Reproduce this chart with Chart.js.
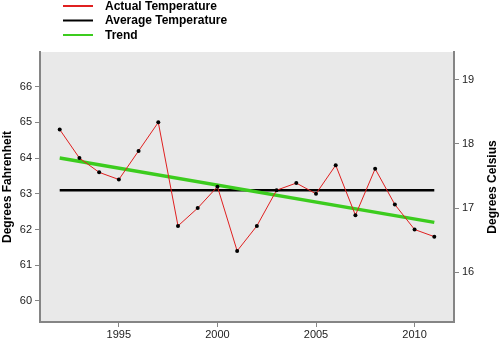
<!DOCTYPE html>
<html>
<head>
<meta charset="utf-8">
<script src="https://cdn.jsdelivr.net/npm/chart.js@4/dist/chart.umd.min.js"></script>
<style>
  body { margin: 0; background: #fff; }
  canvas { display: block; }
</style>
</head>
<body>
<canvas id="chart" width="500" height="340"></canvas>
<script>
const years = [1992, 1993, 1994, 1995, 1996, 1997, 1998, 1999, 2000, 2001,
               2002, 2003, 2004, 2005, 2006, 2007, 2008, 2009, 2010, 2011];
const actualTemps = [64.8, 64.0, 63.6, 63.4, 64.2, 65.0, 62.1, 62.6, 63.2, 61.4,
                     62.1, 63.1, 63.3, 63.0, 63.8, 62.4, 63.7, 62.7, 62.0, 61.8];
const averageYears = [1992, 2011];
const averageTemps = [63.1, 63.1];
const trendYears = [1992, 2011];
const trendTemps = [64.0, 62.2];

const yearTicks = [1995, 2000, 2005, 2010];
const fahrenheitTicks = [60, 61, 62, 63, 64, 65, 66];
const celsiusTicks = [16, 17, 18, 19];

const fMin = 59.41, fMax = 66.97;
const toC = f => (f - 32) * 5 / 9;

const tickFont = { family: "'Liberation Sans Narrow', 'Liberation Sans', Arial", size: 11 };
const boldFont = { family: "'Liberation Sans', Arial, Helvetica", size: 12, weight: 'bold' };
const axisGray = '#858585';

function points(xs, ys) {
    return xs.map((x, i) => ({ x: x, y: ys[i] }))
}

function fixedTicks(values) {
    return scale => { scale.ticks = values.map(v => ({ value: v })) }
}

const panelBackground = {
    id: 'panelBackground',
    beforeDraw(chart) {
        const { ctx, chartArea: a } = chart;
        ctx.save();
        ctx.fillStyle = '#e9e9e9';
        ctx.fillRect(a.left, a.top, a.right - a.left, a.bottom - a.top);
        ctx.restore();
    }
}

const sideLegend = {
    id: 'sideLegend',
    afterDraw(chart) {
        const ctx = chart.ctx;
        ctx.save();
        ctx.font = 'bold 12px ' + boldFont.family;
        ctx.textBaseline = 'middle';
        chart.data.datasets.forEach((ds, i) => {
            const y = 6 + i * 14.5;
            ctx.strokeStyle = ds.borderColor;
            ctx.lineWidth = 2;
            ctx.beginPath();
            ctx.moveTo(63, y);
            ctx.lineTo(93, y);
            ctx.stroke();
            ctx.fillStyle = '#000';
            ctx.fillText(ds.label, 105, y + 0.5);
        });
        // right axis title reads bottom to top, like the left one
        const a = chart.chartArea;
        ctx.translate(493, (a.top + a.bottom) / 2);
        ctx.rotate(-Math.PI / 2);
        ctx.textAlign = 'center';
        ctx.fillText('Degrees Celsius', 0, 0);
        ctx.restore();
    }
}

function renderChart() {
    const ctx = document.getElementById('chart').getContext('2d');
    const chart = new Chart(ctx, {
        type: 'line',
        data: {
            datasets: [
                {
                    label: 'Actual Temperature',
                    data: points(years, actualTemps),
                    borderColor: '#e02020',
                    borderWidth: 1,
                    pointRadius: 2,
                    pointBorderWidth: 0,
                    pointBackgroundColor: '#000',
                    order: 0
                },
                {
                    label: 'Average Temperature',
                    data: points(averageYears, averageTemps),
                    borderColor: '#000000',
                    borderWidth: 2.5,
                    pointRadius: 0,
                    order: 2
                },
                {
                    label: 'Trend',
                    data: points(trendYears, trendTemps),
                    borderColor: '#3ccc1e',
                    borderWidth: 3.5,
                    pointRadius: 0,
                    order: 1
                }
            ]
        },
        options: {
            responsive: false,
            animation: false,
            devicePixelRatio: 1,
            layout: { padding: { top: 52, left: 0, right: 0, bottom: 0 } },
            plugins: {
                legend: { display: false },
                tooltip: { enabled: false }
            },
            scales: {
                x: {
                    type: 'linear',
                    min: 1991,
                    max: 2012,
                    afterBuildTicks: fixedTicks(yearTicks),
                    afterFit: s => { s.height = 18 },
                    ticks: { font: tickFont, color: '#222', padding: 1, callback: v => String(v) },
                    grid: { drawOnChartArea: false, tickLength: 5, color: axisGray },
                    border: { color: axisGray, width: 2 }
                },
                y: {
                    position: 'left',
                    min: fMin,
                    max: fMax,
                    afterBuildTicks: fixedTicks(fahrenheitTicks),
                    afterFit: s => { s.width = 40 },
                    ticks: { font: tickFont, color: '#222', padding: 3 },
                    grid: { drawOnChartArea: false, tickLength: 5, color: axisGray },
                    border: { color: axisGray, width: 2 },
                    title: {
                        display: true,
                        text: 'Degrees Fahrenheit',
                        font: boldFont,
                        color: '#000',
                        padding: { top: 0, bottom: 0 }
                    }
                },
                yC: {
                    position: 'right',
                    min: toC(fMin),
                    max: toC(fMax),
                    afterBuildTicks: fixedTicks(celsiusTicks),
                    afterFit: s => { s.width = 46 },
                    ticks: { font: tickFont, color: '#222', padding: 3 },
                    grid: { drawOnChartArea: false, tickLength: 5, color: axisGray },
                    border: { color: axisGray, width: 2 }
                }
            }
        },
        plugins: [panelBackground, sideLegend]
    })
}

renderChart()
</script>
</body>
</html>
